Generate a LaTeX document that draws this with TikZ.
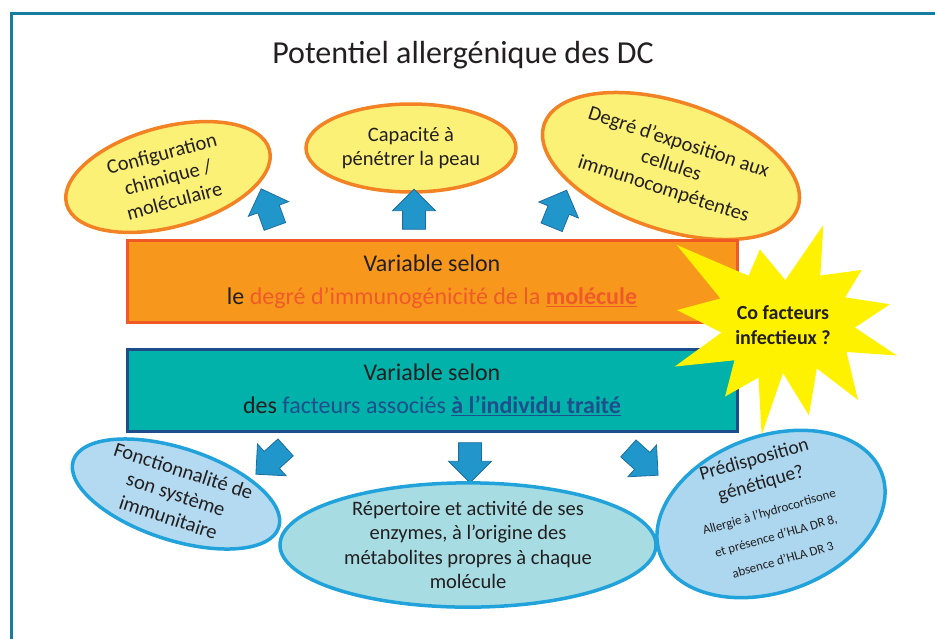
\documentclass[tikz,border=0pt]{standalone}
\usepackage{fontspec}
\setmainfont{Carlito}
\usepackage{tikz}
\usetikzlibrary{shapes.geometric,shapes.arrows,calc}

\definecolor{framecol}{RGB}{22,124,160}
\definecolor{yellowfill}{RGB}{251,241,118}
\definecolor{orangeline}{RGB}{243,130,36}
\definecolor{arrowblue}{RGB}{33,150,203}
\definecolor{arrowline}{RGB}{28,110,160}
\definecolor{boxorange}{RGB}{247,152,29}
\definecolor{boxorangeline}{RGB}{240,88,36}
\definecolor{redtext}{RGB}{240,90,42}
\definecolor{boxteal}{RGB}{0,178,169}
\definecolor{boxtealline}{RGB}{28,76,138}
\definecolor{bluetext}{RGB}{31,78,141}
\definecolor{burstyellow}{RGB}{255,242,0}
\definecolor{ellblue}{RGB}{34,162,219}
\definecolor{lightblue}{RGB}{179,218,240}
\definecolor{lightcyan}{RGB}{166,220,226}
\definecolor{textgray}{RGB}{35,31,32}

\begin{document}
\begin{tikzpicture}[x=1pt,y=1pt,
  every node/.style={text=textgray},
  topell/.style={ellipse, draw=orangeline, line width=3.5pt, fill=yellowfill,
    inner sep=0pt, align=center, font=\fontsize{20.5}{24.5}\selectfont},
  botell/.style={ellipse, draw=ellblue, line width=3.5pt,
    inner sep=0pt, align=center, font=\fontsize{20.5}{24.5}\selectfont},
  blockarrow/.style={single arrow, draw=arrowline, fill=arrowblue, line width=0.8pt,
    minimum height=40pt, inner xsep=0pt, inner ysep=11pt,
    single arrow head extend=10pt, single arrow head indent=0pt},
  vbox/.style={rectangle, minimum width=610pt, minimum height=82pt, line width=3pt,
    align=center, font=\fontsize{24}{33}\selectfont}]
  \useasboundingbox (0,0) rectangle (935,-638);
  % Frame
  \draw[framecol, line width=3pt] (935,-13) -- (11,-13) -- (11,-640);
  % Title
  \node[font=\fontsize{32}{36}\selectfont] (title) at (463,-55) {Potentiel allergénique des DC};
  % Top ellipses
  \node[topell, rotate=15, minimum width=210pt, minimum height=100pt] (config) at (168,-177)
    {Configuration\\chimique /\\moléculaire};
  \node[topell, minimum width=210pt, minimum height=88pt] (peau) at (411,-148)
    {Capacité à\\pénétrer la peau};
  \node[topell, rotate=-18, minimum width=246pt, minimum height=128pt] (expo) at (671,-166)
    {Degré d’exposition aux\\cellules\\immunocompétentes};
  % Arrows up
  \node[blockarrow, rotate=110] (upl) at (270,-213) {};
  \node[blockarrow, rotate=90] (upm) at (414,-215) {};
  \node[blockarrow, rotate=68] (upr) at (557,-214) {};
  % Molecule box
  \node[vbox, draw=boxorangeline, fill=boxorange] (mol) at (432,-281.5)
    {Variable selon\\le \textcolor{redtext}{degré d’immunogénicité de la
     \underline{\textbf{molécule}}}};
  % Individual box
  \node[vbox, draw=boxtealline, fill=boxteal] (indiv) at (432,-390)
    {Variable selon\\des \textcolor{bluetext}{facteurs associés
     \underline{\textbf{à l’individu traité}}}};
  % Star
  \fill[burstyellow] (783,-325) ++(358:72)
    \foreach \a/\r in {11/109,24/68,35/96,53/62,68/108,87/45,107/79,125/60,143/133,
      157/68,172/107,187/62,201/116,216/60,231/92,245/58,259/112,270/48,286/94,
      308/55,315/106,337/69,345/118} { -- ($(783,-325)+(\a:\r)$) } -- cycle;
  \node[font=\bfseries\fontsize{20}{25}\selectfont, align=center] (cofact) at (783,-325)
    {Co facteurs\\infectieux ?};
  % Arrows down
  \node[blockarrow, rotate=222] (dnl) at (275,-457) {};
  \node[blockarrow, rotate=270] (dnm) at (470,-457) {};
  \node[blockarrow, rotate=318] (dnr) at (639,-458) {};
  % Bottom ellipses
  \node[botell, fill=lightblue, rotate=-18, minimum width=216pt, minimum height=92pt] (immun)
    at (176,-494) {Fonctionnalité de\\son système\\immunitaire};
  \node[botell, fill=lightcyan, minimum width=376pt, minimum height=124pt] (enzy)
    at (468,-545) {Répertoire et activité de ses\\enzymes, à l’origine des\\métabolites
    propres à chaque\\molécule};
  \node[botell, fill=lightblue!95!ellblue, rotate=20, minimum width=236pt, minimum height=156pt]
    (genet) at (771,-514) {};
  \node[rotate=16, align=center, font=\fontsize{19.5}{25}\selectfont] (genettxt) at (768,-508)
    {Prédisposition\\génétique?\\[3pt]{\fontsize{13}{18}\selectfont Allergie à l’hydrocortisone}\\
     {\fontsize{13}{18}\selectfont et présence d’HLA DR 8,}\\
     {\fontsize{13}{18}\selectfont absence d’HLA DR 3}};
\end{tikzpicture}
\end{document}
